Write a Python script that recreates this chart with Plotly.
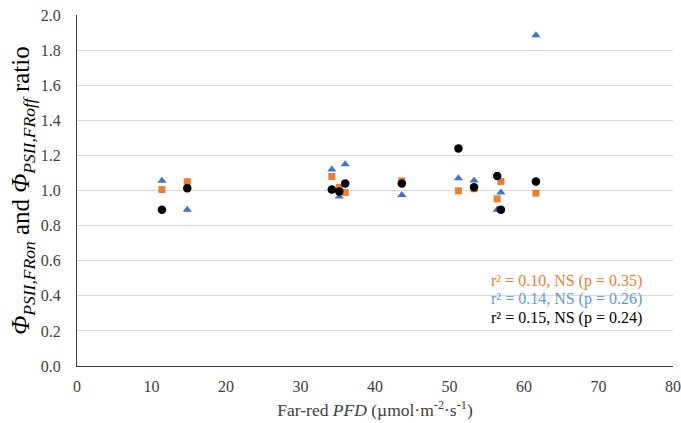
import plotly.graph_objects as go

# Far-red photon flux density (µmol m-2 s-1) for each measurement
far_red_pfd = [11.4, 14.8, 34.2, 35.2, 36.0, 43.6, 51.2, 53.3, 56.4, 56.9, 61.6]

# Ratio values for the three groups
ratio_orange = [1.005, 1.050, 1.080, 1.017, 0.989, 1.055, 0.998, 1.010, 0.952, 1.051, 0.985]
ratio_blue = [1.055, 0.890, 1.120, 0.966, 1.149, 0.975, 1.070, 1.057, 0.891, 0.989, 1.884]
ratio_black = [0.890, 1.013, 1.006, 0.994, 1.040, 1.040, 1.240, 1.019, 1.082, 0.891, 1.051]

stats_text = [
    "r² = 0.10, NS (p = 0.35)",
    "r² = 0.14, NS (p = 0.26)",
    "r² = 0.15, NS (p = 0.24)",
]
stats_colors = ["#ED7D31", "#5B9BD5", "#000000"]

x_ticks = [0, 10, 20, 30, 40, 50, 60, 70, 80]
y_ticks = [0.0, 0.2, 0.4, 0.6, 0.8, 1.0, 1.2, 1.4, 1.6, 1.8, 2.0]

serif = "Times New Roman, Liberation Serif, serif"

fig = go.Figure()
fig.add_trace(go.Scatter(
    x=far_red_pfd, y=ratio_orange, mode="markers", name="orange",
    marker=dict(symbol="square", size=7, color="#ED7D31"),
))
fig.add_trace(go.Scatter(
    x=far_red_pfd, y=ratio_blue, mode="markers", name="blue",
    marker=dict(symbol="triangle-up", size=8, color="#4472C4"),
))
fig.add_trace(go.Scatter(
    x=far_red_pfd, y=ratio_black, mode="markers", name="black",
    marker=dict(symbol="circle", size=8.5, color="#000000"),
))

for i, (txt, col) in enumerate(zip(stats_text, stats_colors)):
    fig.add_annotation(
        x=0.691, xref="paper", y=0.242 - i * 0.052, yref="paper",
        text=txt, showarrow=False, xanchor="left", yanchor="middle",
        font=dict(family=serif, size=16, color=col),
    )

fig.update_layout(
    width=681, height=423,
    margin=dict(l=77, r=8, t=15, b=57),
    paper_bgcolor="white", plot_bgcolor="white",
    showlegend=False,
    font=dict(family=serif, size=16, color="#404040"),
)
fig.update_xaxes(
    range=[0, 80], tickvals=x_ticks, ticktext=[str(v) for v in x_ticks],
    showgrid=False, zeroline=False, automargin=False,
    showline=True, linecolor="#404040", linewidth=1.2,
    ticks="", ticklabelstandoff=6,
    tickfont=dict(family=serif, size=16, color="#404040"),
    title=dict(
        text="Far-red <i>PFD</i> (µmol·m<sup>-2</sup>·s<sup>-1</sup>)",
        font=dict(family=serif, size=17.5, color="#404040"), standoff=9,
    ),
)
fig.update_yaxes(
    range=[0, 2.0], tickvals=y_ticks, ticktext=[f"{v:.1f}" for v in y_ticks],
    showgrid=True, gridcolor="#D9D9D9", gridwidth=1, zeroline=False,
    showline=True, linecolor="#404040", linewidth=1.2, automargin=False,
    ticks="", ticklabelstandoff=12,
    tickfont=dict(family=serif, size=16, color="#404040"),
    title=dict(
        text="<i>Φ<sub>PSII,FRon</sub></i> and <i>Φ<sub>PSII,FRoff</sub></i> ratio",
        font=dict(family=serif, size=25, color="#000000"), standoff=3,
    ),
)

fig.write_html("out.html")
